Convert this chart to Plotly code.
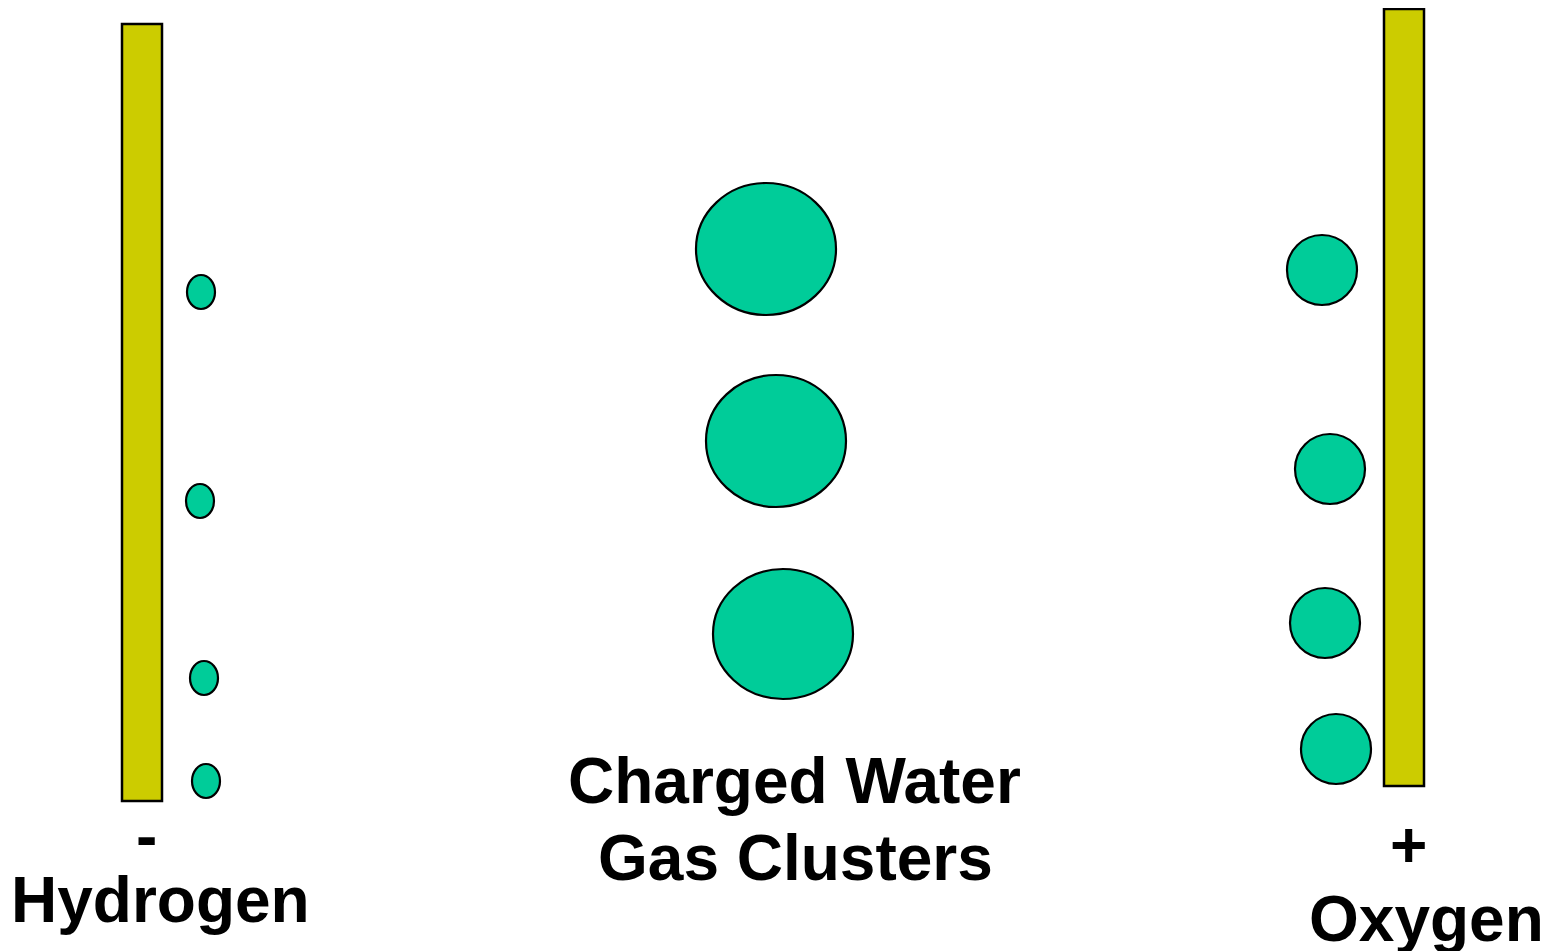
import plotly.graph_objects as go

# Electrodes (pixel-space coordinates in a 1551x951 canvas)
electrode_names = ["cathode", "anode"]
electrode_x0 = [122, 1384]
electrode_x1 = [162, 1424]
electrode_y0 = [24, 9]
electrode_y1 = [801, 786]

# Hydrogen bubbles
h_x = [201, 200, 204, 206]
h_y = [292, 501, 678, 781]
h_rx = [14, 14, 14, 14]
h_ry = [17, 17, 17, 17]

# Charged water gas clusters
c_x = [766, 776, 783]
c_y = [249, 441, 634]
c_rx = [70, 70, 70]
c_ry = [66, 66, 65]

# Oxygen bubbles
o_x = [1322, 1330, 1325, 1336]
o_y = [270, 469, 623, 749]
o_rx = [35, 35, 35, 35]
o_ry = [35, 35, 35, 35]

# Labels
label_text = ["-", "Hydrogen", "Charged Water", "Gas Clusters", "+", "Oxygen"]
label_x = [146, 160, 794, 795, 1408, 1426]
label_y = [836, 900, 781, 858, 845, 919]

YELLOW = "#CCCC00"
GREEN = "#00CC99"

OFF = 8  # page body margin

fig = go.Figure()
shapes = []
for x0, x1, y0, y1 in zip(electrode_x0, electrode_x1, electrode_y0, electrode_y1):
    shapes.append(dict(type="rect", xref="x", yref="y", x0=x0, x1=x1, y0=y0, y1=y1,
                       fillcolor=YELLOW, line=dict(color="black", width=2.5)))
for xs, ys, rxs, rys in [(h_x, h_y, h_rx, h_ry), (c_x, c_y, c_rx, c_ry), (o_x, o_y, o_rx, o_ry)]:
    for cx, cy, rx, ry in zip(xs, ys, rxs, rys):
        shapes.append(dict(type="circle", xref="x", yref="y", x0=cx - rx, x1=cx + rx,
                           y0=cy - ry, y1=cy + ry, fillcolor=GREEN,
                           line=dict(color="black", width=2.2)))

annotations = []
for t, x, y in zip(label_text, label_x, label_y):
    annotations.append(dict(text=f"<b>{t}</b>", x=x, y=y, xref="x", yref="y",
                            showarrow=False, xanchor="center", yanchor="middle",
                            font=dict(family="Liberation Sans, Arial", size=64, color="black")))

fig.update_layout(
    width=1551 - OFF, height=951 - OFF,
    margin=dict(l=0, r=0, t=0, b=0),
    paper_bgcolor="white", plot_bgcolor="white",
    shapes=shapes, annotations=annotations,
    xaxis=dict(range=[OFF, 1551], visible=False, fixedrange=True),
    yaxis=dict(range=[951, OFF], visible=False, fixedrange=True),
    showlegend=False,
)
fig.write_html("out.html")
